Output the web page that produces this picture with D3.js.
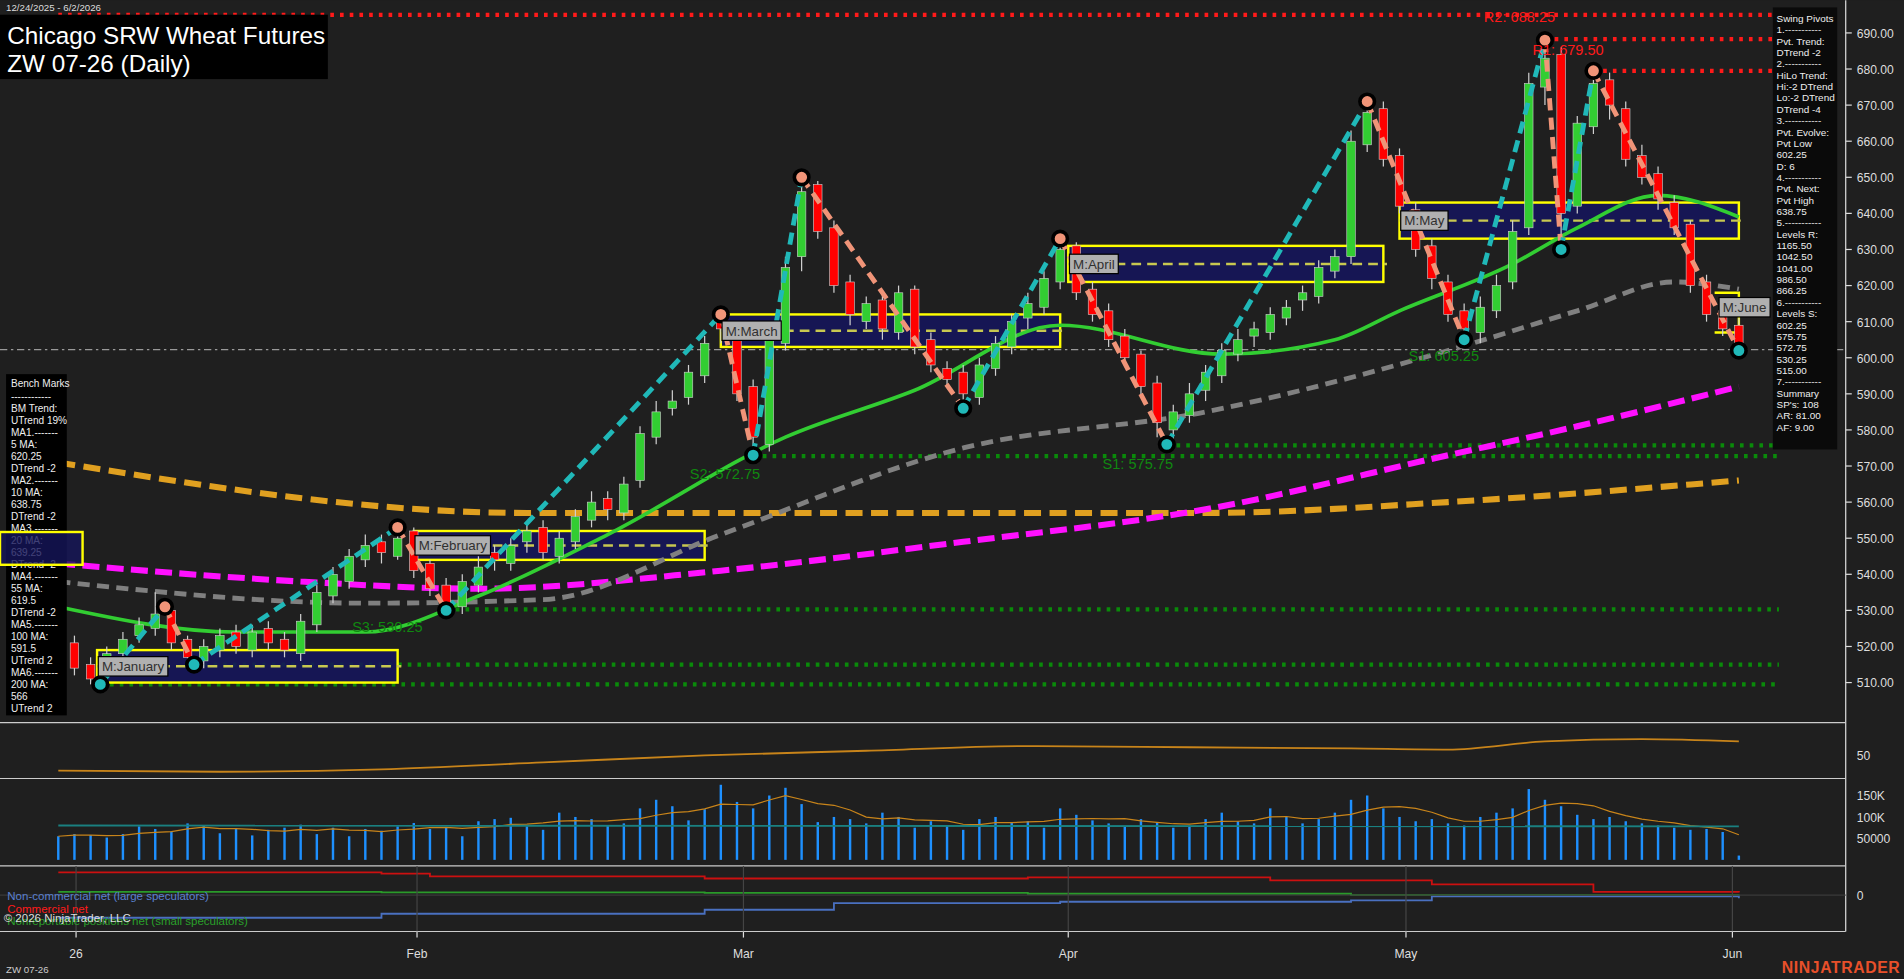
<!DOCTYPE html>
<html><head><meta charset="utf-8">
<script src="https://cdn.jsdelivr.net/npm/d3@7/dist/d3.min.js"></script>
<style>body{margin:0;background:#1f1f1f;overflow:hidden}text{font-family:Arial,"Liberation Sans",sans-serif}</style>
</head><body><svg id="c" width="1904" height="979" viewBox="0 0 1568 806"></svg>
<script>
// ---- data ----
const opens = [526,521,515,512,518,523,525,530,522,516,519,524,519,525,522,518,526,534,538,544,549,545,552,543,537,531,537,546,543,549,553,545,549,555,561,557,566,578,586,589,595,612,608,592,576,604,628,648,636,621,610,616,607,619,605,597,596,589,597,603,611,614,621,631,619,613,606,601,593,580,584,591,595,601,606,607,611,616,617,624,628,659,669,656,641,631,621,613,607,613,621,636,675,684,642,664,677,669,656,651,643,637,621,613,609];
const highs = [528,523,517,520,524,528,535,531,523,522,525,526,526,527,524,529,537,542,547,551,551,553,553,544,539,540,545,548,550,554,555,552,558,563,563,567,581,588,591,598,606,614,610,594,607,628,650,649,638,623,617,618,620,620,607,599,598,600,606,612,618,624,633,632,621,615,608,602,595,587,593,598,604,608,610,614,616,620,627,630,663,671,671,658,643,633,623,615,617,623,638,679,688,686,667,680,679,671,659,653,645,638,623,616,611];
const lows = [519,512,509.5,510,516,521,523,519,515,514,517,518,517,519,517,516,524,532,536,542,543,544,539,534,530,529,535,541,541,546,544,543,547,553,555,555,564,576,584,587,593,604,588,573,574,602,624,633,618,609,608,605,605,601,596,592,586,587,595,601,608,612,619,616,610,603,598,589,578,576,582,588,593,599,603,605,609,613,615,622,626,657,653,640,628,619,610,605,604,611,619,634,670,630,640,662,666,653,648,641,634,618,610,606,602];
const closes = [522,514,511,518,522,526,529,521,517,520,523,520,524,521,519,527,535,540,545,548,546,550,541,536,532,538,542,544,548,552,546,550,556,560,558,565,579,585,588,596,604,608,590,578,605,625,646,635,620,612,615,608,618,603,598,594,590,598,604,610,615,622,630,618,612,605,600,592,582,585,590,596,602,605,608,612,614,618,625,628,660,668,655,642,630,622,612,608,614,620,635,676,683,640,665,676,670,655,650,644,636,620,612,608,603];
const volumes = [55,60,58,52,60,78,72,66,85,80,62,72,57,70,75,82,60,75,55,72,68,78,86,72,75,55,90,95,98,78,70,110,100,95,80,85,120,140,125,92,118,175,135,120,150,168,130,88,100,95,85,110,100,75,90,80,70,95,100,88,90,75,120,105,92,85,78,95,88,75,80,95,110,90,85,120,100,85,95,110,140,150,120,100,90,95,85,80,100,110,120,165,140,125,105,95,100,90,85,80,75,70,72,65,10];
// time axis labels at bar position
const monthTicks = [[1.1,"26"],[22.2,"Feb"],[42.4,"Mar"],[62.5,"Apr"],[83.4,"May"],[103.6,"Jun"]];
// moving averages sampled at bar index
const ma20 = [[0,531],[11,524],[19,524],[26,534],[34,551],[45,578],[53,591],[62,609],[72,601],[79,605],[83,613],[90,626],[94,636],[99,645],[104,639]];
const ma55 = [[0,538],[19,532],[30,533],[41,551],[56,575],[71,585],[86,602],[94,613],[100,621],[104,619]];
const ma100 = [[0,543],[15,538],[26,536],[41,541],[56,549],[71,558],[86,573],[94,581],[104,592]];
const ma200 = [[0,571],[29,557],[49,557],[71,557],[86,560],[104,566]];
// swing pivots [index, price, "H"/"L"]
const pivots = [[2.6,509.5,"L"],[6.6,531,"H"],[8.4,515,"L"],[21,553,"H"],[24,530,"L"],[41,612,"H"],[43,573,"L"],[46,650,"H"],[56,586,"L"],[62,633,"H"],[68.6,576,"L"],[81,671,"H"],[87,605,"L"],[92,688,"H"],[93,630,"L"],[95,679.5,"H"],[104,602,"L"]];
// monthly zones [label, startIdx, endIdx, top, bottom]
const zones = [["M:January",2.4,21,519,510],["M:February",22,40,552,544],["M:March",41,62,612,603],["M:April",62.5,82,631,621],["M:May",83,104,643,633]];
const levels = [[695,"#ff1a1a",0],[688.25,"#ff1a1a",92],[679.5,"#ff1a1a",95],[575.75,"#0a8a0a",68.6],[572.75,"#0a8a0a",43],[530.25,"#0a8a0a",24],[515,"#0a8a0a",8.4],[509.5,"#0a8a0a",2.6]];
const levelLabels = [["R2: 688.25",1222,18,"#ff1a1a"],["R1: 679.50",1262,45,"#ff1a1a"],["S1: 605.25",1160,297,"#108810"],["S1: 575.75",908,386,"#108810"],["S2: 572.75",568,394,"#108810"],["S3: 530.25",290,520,"#108810"],["9.50",30,582,"#108810"]];
const osc = [[0,37],[10,36],[20,38],[30,44],[40,50],[50,54],[60,58],[70,57],[80,56],[86,55],[92,62],[98,64],[104,62]];
const cotRed = [[0,0.85],[20,0.8],[23,0.7],[40,0.62],[60,0.66],[75,0.55],[85,0.4],[95,0.12],[104,0.1]];
const cotGreen = [[0,0.12],[20,0.1],[40,0.08],[60,0.05],[80,0.0],[104,0.02]];
const cotBlue = [[0,-0.85],[20,-0.7],[40,-0.55],[48,-0.3],[62,-0.25],[80,-0.2],[85,-0.05],[104,-0.12]];
const benchLines = ["Bench Marks","------------","BM Trend:","UTrend 19%","MA1.-------","5 MA:","620.25","DTrend -2","MA2.-------","10 MA:","638.75","DTrend -2","MA3.-------","20 MA:","639.25","DTrend -2","MA4.-------","55 MA:","619.5","DTrend -2","MA5.-------","100 MA:","591.5","UTrend 2","MA6.-------","200 MA:","566","UTrend 2"];
const pivotLines = ["Swing Pivots","1.-----------","Pvt. Trend:","DTrend -2","2.-----------","HiLo Trend:","Hi:-2 DTrend","Lo:-2 DTrend","DTrend -4","3.-----------","Pvt. Evolve:","Pvt Low","602.25","D: 6","4.-----------","Pvt. Next:","Pvt High","638.75","5.-----------","Levels R:","1165.50","1042.50","1041.00","986.50","866.25","6.-----------","Levels S:","602.25","575.75","572.75","530.25","515.00","7.-----------","Summary","SP's: 108","AR: 81.00","AF: 9.00"];
const priceTicks = [510,520,530,540,550,560,570,580,590,600,610,620,630,640,650,660,670,680,690];

const svg = d3.select("#c");
const x = d3.scaleLinear().domain([0, 104]).range([48, 1432]);
const y = d3.scaleLinear().domain([510, 690]).range([562, 27]);
const axisX = 1520;

svg.append("rect").attr("width",1568).attr("height",806).attr("fill","#1f1f1f");
const main = svg.append("g");

// level lines
levels.forEach(([p,c,a]) => main.append("line").attr("x1",x(a)).attr("x2",1465)
  .attr("y1",y(p)).attr("y2",y(p)).attr("stroke",c).attr("stroke-width",3.5).attr("stroke-dasharray","3,5"));
main.append("line").attr("x1",0).attr("x2",axisX).attr("y1",y(602.25)).attr("y2",y(602.25))
  .attr("stroke","#999").attr("stroke-dasharray","6,3,2,3");

// zones
zones.forEach(([lab,a,b,t,bt]) => {
  main.append("rect").attr("x",x(a)).attr("y",y(t)).attr("width",x(b)-x(a)).attr("height",y(bt)-y(t))
    .attr("fill","#15155a").attr("fill-opacity",0.9).attr("stroke","#ffff00").attr("stroke-width",2);
  main.append("line").attr("x1",x(a)).attr("x2",x(b)+3).attr("y1",(y(t)+y(bt))/2).attr("y2",(y(t)+y(bt))/2)
    .attr("stroke","#c8c850").attr("stroke-width",2).attr("stroke-dasharray","8,5");
});
main.append("path").attr("d",`M${x(102.5)},${y(618)}H${x(104)}V${y(607)}H${x(102.5)}`)
  .attr("fill","none").attr("stroke","#ffff00").attr("stroke-width",2);

// MAs
const line = d3.line().x(d => x(d[0])).y(d => y(d[1])).curve(d3.curveMonotoneX);
main.append("path").datum(ma200).attr("d",line).attr("fill","none").attr("stroke","#e0a020").attr("stroke-width",5).attr("stroke-dasharray","14,7");
main.append("path").datum(ma100).attr("d",line).attr("fill","none").attr("stroke","#ff10ff").attr("stroke-width",5).attr("stroke-dasharray","14,6");
main.append("path").datum(ma55).attr("d",line).attr("fill","none").attr("stroke","#808080").attr("stroke-width",4).attr("stroke-dasharray","10,6");
main.append("path").datum(ma20).attr("d",line).attr("fill","none").attr("stroke","#32cd32").attr("stroke-width",3);

// candles
const n = Math.min(opens.length, highs.length, lows.length, closes.length);
const cg = main.append("g");
d3.range(n).forEach(i => {
  const up = closes[i] >= opens[i];
  cg.append("line").attr("x1",x(i)).attr("x2",x(i)).attr("y1",y(highs[i])).attr("y2",y(lows[i])).attr("stroke","#d0d0d0");
  cg.append("rect").attr("x",x(i)-3.5).attr("width",7)
    .attr("y",y(Math.max(opens[i],closes[i]))).attr("height",Math.max(1.5,Math.abs(y(opens[i])-y(closes[i]))))
    .attr("fill",up?"#32cd32":"#ff0000").attr("stroke","#d0d0d0").attr("stroke-width",0.5);
});

// swing legs
for (let i = 1; i < pivots.length; i++) {
  const a = pivots[i-1], b = pivots[i];
  main.append("line").attr("x1",x(a[0])).attr("y1",y(a[1])).attr("x2",x(b[0])).attr("y2",y(b[1]))
    .attr("stroke", b[2]==="H" ? "#20b8b8" : "#f09478").attr("stroke-width",4).attr("stroke-dasharray","10,6");
}
pivots.forEach(p => main.append("circle").attr("cx",x(p[0])).attr("cy",y(p[1])).attr("r",6)
  .attr("fill",p[2]==="H"?"#f09478":"#20b8b8").attr("stroke","#000").attr("stroke-width",3));

// zone labels
zones.concat([["M:June",102.7,0,614,0]]).forEach(([lab,a,b,t,bt]) => {
  const yy = bt ? (y(t)+y(bt))/2 : y(t);
  const g = main.append("g");
  const tx = g.append("text").attr("x",x(a)+4).attr("y",yy+4).attr("font-family","Liberation Serif,serif").attr("font-size",11).attr("fill","#303030").text(lab);
  const w = tx.node().getComputedTextLength();
  g.insert("rect","text").attr("x",x(a)+1).attr("y",yy-8).attr("width",w+6).attr("height",16).attr("fill","#b0b0b0").attr("stroke","#000");
});

levelLabels.forEach(([t,xx,yy,c]) => main.append("text").attr("x",xx).attr("y",yy).attr("font-size",12).attr("fill",c).text(t));

// right axis
svg.append("line").attr("x1",axisX).attr("x2",axisX).attr("y1",0).attr("y2",767).attr("stroke","#ddd");
priceTicks.forEach(p => {
  svg.append("line").attr("x1",axisX).attr("x2",axisX+5).attr("y1",y(p)).attr("y2",y(p)).attr("stroke","#ddd");
  svg.append("text").attr("x",axisX+9).attr("y",y(p)+4).attr("font-size",10).attr("fill","#ddd").text(p.toFixed(2));
});

// panel separators
[595,641,713,767].forEach(v => svg.append("line").attr("x1",0).attr("x2",axisX).attr("y1",v).attr("y2",v).attr("stroke","#ccc"));

// oscillator
const yo = d3.scaleLinear().domain([25,75]).range([646,598]);
svg.append("path").datum(osc).attr("d",d3.line().x(d=>x(d[0])).y(d=>yo(d[1])).curve(d3.curveMonotoneX))
  .attr("fill","none").attr("stroke","#c8841a").attr("stroke-width",1.5);
svg.append("text").attr("x",axisX+9).attr("y",yo(50)+4).attr("font-size",10).attr("fill","#ddd").text("50");

// volume
const yv = d3.scaleLinear().domain([0,150]).range([708,655]);
volumes.forEach((v,i) => svg.append("line").attr("x1",x(i)).attr("x2",x(i)).attr("y1",yv(0)).attr("y2",yv(v)).attr("stroke","#1e90ff").attr("stroke-width",2));
const volAvg = volumes.map((v,i) => [i, d3.mean(volumes.slice(Math.max(0,i-4), i+1))]);
svg.append("path").datum(volAvg).attr("d",d3.line().x(d=>x(d[0])).y(d=>yv(d[1]))).attr("fill","none").attr("stroke","#c8841a").attr("stroke-width",1);
svg.append("line").attr("x1",x(0)).attr("x2",x(104)).attr("y1",yv(80)).attr("y2",yv(78)).attr("stroke","#1a8080").attr("stroke-width",1.5);
[[150,"150K"],[100,"100K"],[50,"50000"]].forEach(([v,t]) => svg.append("text").attr("x",axisX+9).attr("y",yv(v)+4).attr("font-size",10).attr("fill","#ddd").text(t));

// COT
const yc = d3.scaleLinear().domain([-1,1]).range([759,715]);
const step = d3.line().x(d=>x(d[0])).y(d=>yc(d[1])).curve(d3.curveStepAfter);
[[cotRed,"#cc1010"],[cotGreen,"#2a9a2a"],[cotBlue,"#4a70c0"]].forEach(([d,c]) =>
  svg.append("path").datum(d).attr("d",step).attr("fill","none").attr("stroke",c).attr("stroke-width",1.5));
svg.append("line").attr("x1",0).attr("x2",axisX).attr("y1",yc(0)).attr("y2",yc(0)).attr("stroke","#3a3a3a");
svg.append("text").attr("x",axisX+9).attr("y",yc(0)+4).attr("font-size",10).attr("fill","#ddd").text("0");

// x axis
monthTicks.forEach(([i,t]) => {
  svg.append("line").attr("x1",x(i)).attr("x2",x(i)).attr("y1",713).attr("y2",767).attr("stroke","#444");
  svg.append("line").attr("x1",x(i)).attr("x2",x(i)).attr("y1",767).attr("y2",772).attr("stroke","#ddd");
  svg.append("text").attr("x",x(i)).attr("y",789).attr("text-anchor","middle").attr("font-size",10).attr("fill","#ddd").text(t);
});

// text boxes
svg.append("rect").attr("x",0).attr("y",12).attr("width",270).attr("height",53).attr("fill","#000");
svg.append("text").attr("x",6).attr("y",36).attr("font-size",20).attr("fill","#fff").text("Chicago SRW Wheat Futures");
svg.append("text").attr("x",6).attr("y",59).attr("font-size",20).attr("fill","#fff").text("ZW 07-26 (Daily)");
svg.append("text").attr("x",5).attr("y",9).attr("font-size",8).attr("fill","#ddd").text("12/24/2025 - 6/2/2026");

svg.append("rect").attr("x",5).attr("y",308).attr("width",50).attr("height",281).attr("fill","#000");
benchLines.forEach((t,i) => svg.append("text").attr("x",9).attr("y",319+i*9.9).attr("font-size",8.3).attr("fill","#eee").text(t));
svg.append("rect").attr("x",0).attr("y",438).attr("width",68).attr("height",27).attr("fill","#15155a").attr("fill-opacity",0.8).attr("stroke","#ffff00").attr("stroke-width",2);

svg.append("rect").attr("x",1460).attr("y",6).attr("width",53).attr("height",364).attr("fill","#0a0a0a");
pivotLines.forEach((t,i) => svg.append("text").attr("x",1463).attr("y",18+i*9.35).attr("font-size",8.2).attr("fill","#eee").text(t));

// legend
[["Non-commercial net (large speculators)","#5a80d0",741],["Commercial net","#ff1a1a",752],["Nonreportable positions net (small speculators)","#2aa02a",762]]
  .forEach(([t,c,yy]) => svg.append("text").attr("x",6).attr("y",yy).attr("font-size",9.5).attr("fill",c).text(t));
svg.append("text").attr("x",3).attr("y",759).attr("font-size",9.5).attr("fill","#ddd").text("© 2026 NinjaTrader, LLC");
svg.append("text").attr("x",5).attr("y",801).attr("font-size",8).attr("fill","#ccc").text("ZW 07-26");
svg.append("text").attr("x",1565).attr("y",801).attr("text-anchor","end").attr("font-size",13).attr("font-weight","bold").attr("fill","#e8502a").attr("letter-spacing",0.5).text("NINJATRADER");
</script></body></html>
